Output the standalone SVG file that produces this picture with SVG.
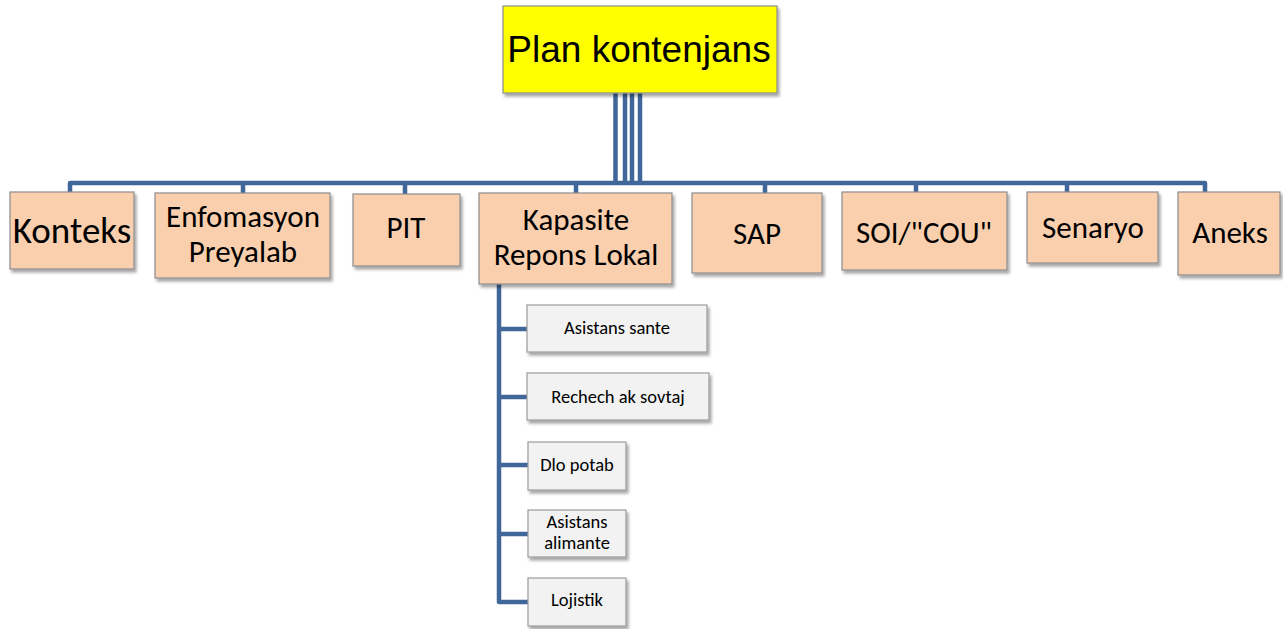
<svg xmlns="http://www.w3.org/2000/svg" width="1283" height="629" viewBox="0 0 1283 629">
<defs>
<filter id="sh" x="-10%" y="-10%" width="130%" height="140%">
<feDropShadow dx="2" dy="3" stdDeviation="1.8" flood-color="#000" flood-opacity="0.35"/>
</filter>
</defs>
<style>
.l1 { fill:#F9CFAE; stroke:#8C8C8C; stroke-width:1.2; filter:url(#sh); }
.l2 { fill:#F2F2F2; stroke:#9A9A9A; stroke-width:1.2; filter:url(#sh); }
.root { fill:#FFFF00; stroke:#8C8C8C; stroke-width:1.2; filter:url(#sh); }
.c { fill:none; stroke:#41679A; stroke-width:4.5; stroke-linejoin:round; stroke-linecap:butt; }
text { font-family:Carlito, Lato, "Liberation Sans", sans-serif; font-weight:normal; fill:#000; text-anchor:middle; }
.t1 { font-size:31px; }
.t2 { font-size:18.5px; }
.tr { font-family:"Liberation Sans", Arial, sans-serif; font-size:37px; }
</style>
<g id="connectors">
<line class="c" x1="615.5" y1="93" x2="615.5" y2="183"/>
<line class="c" x1="625" y1="93" x2="625" y2="183"/>
<line class="c" x1="632" y1="93" x2="632" y2="183"/>
<line class="c" x1="640" y1="93" x2="640" y2="183"/>
<path class="c" d="M70,192 V183 H1205 V192"/>
<line class="c" x1="243" y1="183" x2="243" y2="193"/>
<line class="c" x1="405" y1="183" x2="405" y2="194"/>
<line class="c" x1="576" y1="183" x2="576" y2="193"/>
<line class="c" x1="765" y1="183" x2="765" y2="193"/>
<line class="c" x1="916" y1="183" x2="916" y2="192"/>
<line class="c" x1="1067" y1="183" x2="1067" y2="192"/>
<path class="c" d="M499,284 V602 H528"/>
<line class="c" x1="499" y1="329" x2="527" y2="329"/>
<line class="c" x1="499" y1="397" x2="527" y2="397"/>
<line class="c" x1="499" y1="465" x2="528" y2="465"/>
<line class="c" x1="499" y1="534" x2="528" y2="534"/>
</g>
<g id="root">
<rect class="root" x="503" y="6" width="274" height="87"/>
<text class="tr" x="639" y="62">Plan kontenjans</text>
</g>
<g id="konteks">
<rect class="l1" x="10" y="192" width="124" height="77"/>
<text class="t1" x="72" y="243" style="font-size:37px">Konteks</text>
</g>
<g id="enfomasyon">
<rect class="l1" x="155" y="193" width="175" height="85"/>
<text class="t1" x="243" y="227">Enfomasyon</text>
<text class="t1" x="243" y="262">Preyalab</text>
</g>
<g id="pit">
<rect class="l1" x="353" y="194" width="107" height="72"/>
<text class="t1" x="406" y="238">PIT</text>
</g>
<g id="kapasite">
<rect class="l1" x="479" y="193" width="193" height="91"/>
<text class="t1" x="576" y="230">Kapasite</text>
<text class="t1" x="576" y="265">Repons Lokal</text>
</g>
<g id="sap">
<rect class="l1" x="692" y="193" width="130" height="80"/>
<text class="t1" x="757" y="244">SAP</text>
</g>
<g id="soi">
<rect class="l1" x="842" y="192" width="165" height="78"/>
<text class="t1" x="924" y="243">SOI/"COU"</text>
</g>
<g id="senaryo">
<rect class="l1" x="1027" y="192" width="131" height="71"/>
<text class="t1" x="1093" y="238">Senaryo</text>
</g>
<g id="aneks">
<rect class="l1" x="1178" y="192" width="102" height="83"/>
<text class="t1" x="1230" y="243">Aneks</text>
</g>
<g id="asistans-sante">
<rect class="l2" x="527" y="305" width="180" height="47"/>
<text class="t2" x="617" y="334">Asistans sante</text>
</g>
<g id="rechech">
<rect class="l2" x="527" y="373" width="182" height="47"/>
<text class="t2" x="618" y="403">Rechech ak sovtaj</text>
</g>
<g id="dlo-potab">
<rect class="l2" x="528" y="442" width="98" height="48"/>
<text class="t2" x="577" y="471">Dlo potab</text>
</g>
<g id="asistans-alimante">
<rect class="l2" x="528" y="510" width="98" height="47"/>
<text class="t2" x="577" y="528">Asistans</text>
<text class="t2" x="577" y="549">alimante</text>
</g>
<g id="lojistik">
<rect class="l2" x="528" y="578" width="98" height="48"/>
<text class="t2" x="577" y="606">Lojistik</text>
</g>
</svg>
